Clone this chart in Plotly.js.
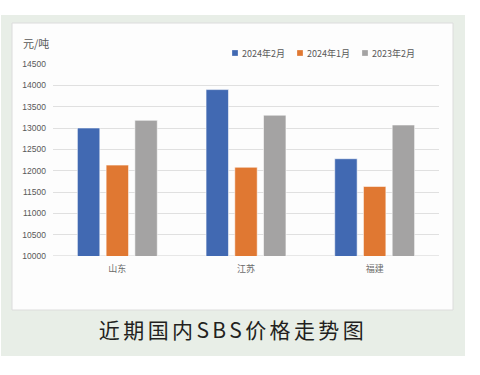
<!DOCTYPE html>
<html>
<head>
<meta charset="utf-8">
<script src="https://cdn.plot.ly/plotly-3.0.1.min.js"></script>
<style>
html,body{margin:0;padding:0;background:#fff;}
#chart{width:480px;height:375px;}
.gtitle{letter-spacing:3.4px;}
.legend .legendpoints path{transform:translate(33px,0px) scale(0.5);}
.legend .scrollbox{clip-path:none;}
</style>
</head>
<body>
<div id="chart"></div>
<script>
var categories = ['山东', '江苏', '福建'];
var seriesNames = ['2024年2月', '2024年1月', '2023年2月'];
var feb2024 = [13000, 13900, 12280];
var jan2024 = [12130, 12080, 11630];
var feb2023 = [13180, 13300, 13070];
var yTicks = [10000, 10500, 11000, 11500, 12000, 12500, 13000, 13500, 14000, 14500];
var unitLabel = '元/吨';
var chartTitle = '近期国内SBS价格走势图';

var colors = ['#4169b2', '#e07832', '#a4a3a3'];
var seriesValues = [feb2024, jan2024, feb2023];

var traces = seriesValues.map(function (vals, i) {
  return {
    type: 'bar',
    x: categories,
    y: vals,
    name: seriesNames[i],
    marker: {color: colors[i], line: {color: 'rgba(255,255,255,0.55)', width: 1}},
    hoverinfo: 'skip'
  };
});

// plot area in pixels
var L = 53, R = 439, T = 64, B = 256;
var W = R - L, H = B - T;
function px(x) { return (x - L) / W; }
function py(y) { return (B - y) / H; }

var font = 'Liberation Sans, Noto Sans CJK SC, sans-serif';
var cjk = 'Noto Sans CJK SC, sans-serif';

var layout = {
  width: 480, height: 375,
  margin: {l: L, r: 480 - R, t: T, b: 375 - B, pad: 0, autoexpand: false},
  paper_bgcolor: '#ffffff',
  plot_bgcolor: 'rgba(0,0,0,0)',
  barmode: 'group',
  bargap: 0.33,
  bargroupgap: 0.22,
  showlegend: true,
  legend: {
    orientation: 'h',
    x: px(202), xanchor: 'left',
    y: py(53), yanchor: 'middle',
    entrywidth: 20, entrywidthmode: 'pixels',
    font: {family: cjk, size: 9, color: '#595959'},
    bgcolor: 'rgba(0,0,0,0)',
    traceorder: 'normal'
  },
  title: {
    text: chartTitle,
    x: 233 / 480, xanchor: 'center',
    y: 1 - 331 / 375, yanchor: 'middle',
    yref: 'container', xref: 'container',
    font: {family: cjk, size: 21, color: '#231f20'}
  },
  xaxis: {
    type: 'category',
    tickfont: {family: cjk, size: 9, color: '#6b6b6b'},
    showgrid: false, zeroline: false,
    showline: false, ticks: '',
    ticklabelstandoff: 6
  },
  yaxis: {
    range: [10000, 14500],
    tickvals: yTicks,
    ticktext: yTicks.map(String),
    tickfont: {family: font, size: 8.5, color: '#595959'},
    showgrid: true, gridcolor: '#e0e0e0', gridwidth: 1,
    zeroline: false, showline: false, ticks: '',
    ticklabelstandoff: 6
  },
  shapes: [
    {type: 'rect', xref: 'paper', yref: 'paper', layer: 'below',
     x0: px(1), x1: px(465), y0: py(356), y1: py(15),
     fillcolor: '#e8eee7', line: {width: 0}},
    {type: 'rect', xref: 'paper', yref: 'paper', layer: 'below',
     x0: px(12), x1: px(453), y0: py(310), y1: py(23),
     fillcolor: '#fdfdfd', line: {color: '#dcdcdc', width: 1}},
    {type: 'line', xref: 'paper', yref: 'y', layer: 'below',
     x0: 0, x1: 1, y0: 10000, y1: 10000,
     line: {color: '#d0d0d0', width: 1}}
  ],
  annotations: [
    {text: unitLabel, xref: 'paper', yref: 'paper',
     x: px(21), xanchor: 'left', y: py(43), yanchor: 'middle',
     showarrow: false, font: {family: cjk, size: 11, color: '#595959'}}
  ]
};

Plotly.newPlot('chart', traces, layout, {displayModeBar: false, staticPlot: true});
</script>
</body>
</html>
